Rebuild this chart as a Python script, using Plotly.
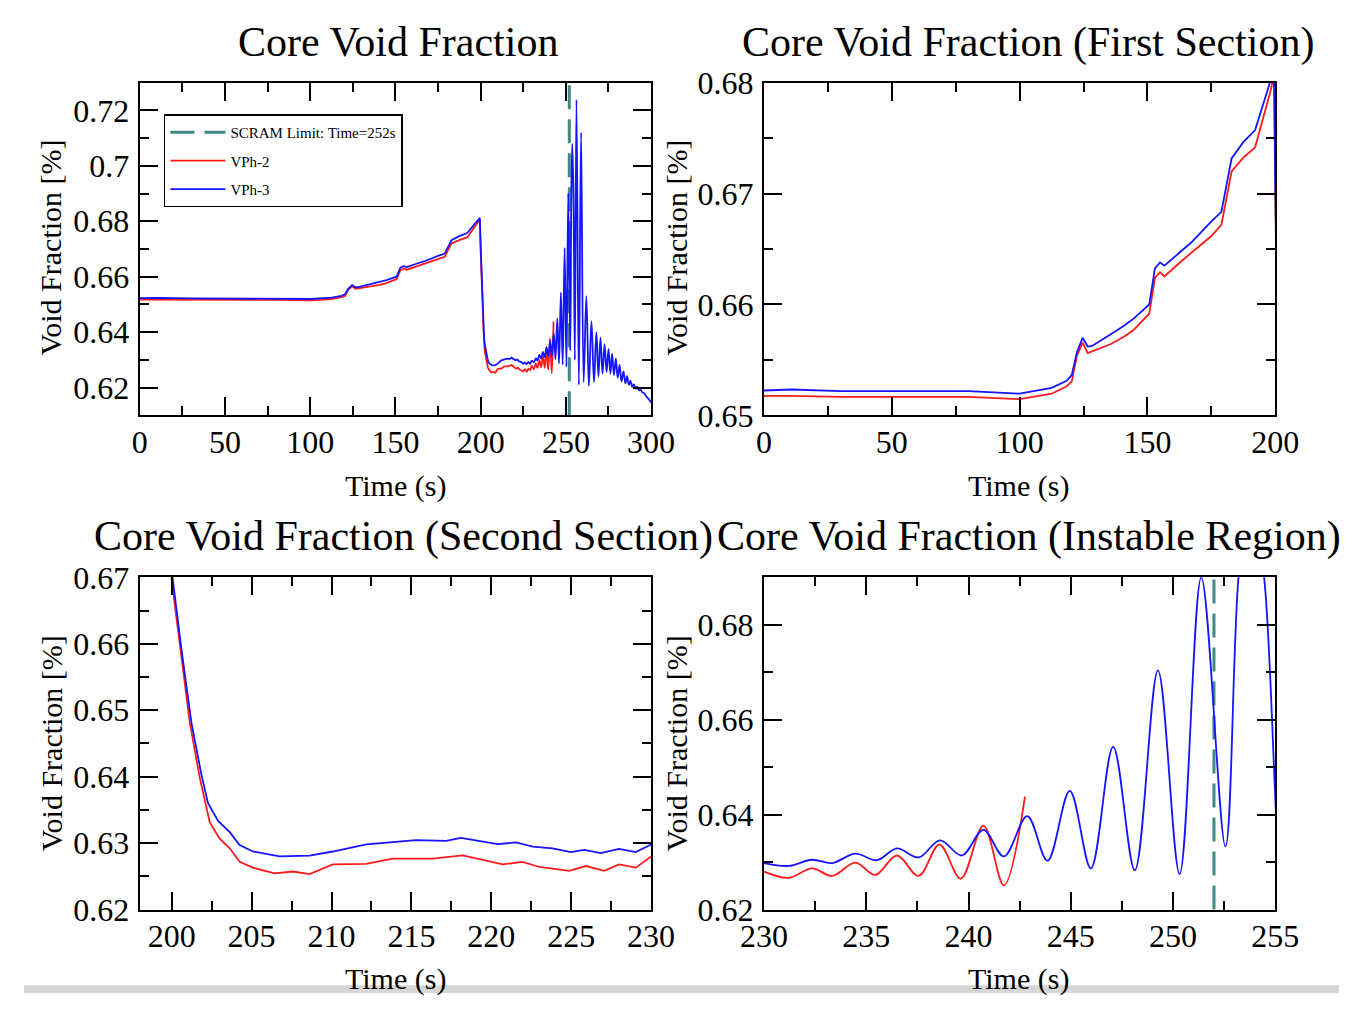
import plotly.graph_objects as go

# ---------------- data ----------------
scram_time = 252.0

# VPh-2 (red) : time [s] and core void fraction
t_vph2 = [0, 10.5, 30, 80, 100, 112.5, 118.4, 120.4, 122.4, 124.6, 126.6, 135.5, 140.8,
          144.7, 150.7, 152.9, 154.9, 156.6, 163.2, 167.1, 175, 178.9, 182.9, 187.4, 192.1,
          198, 199.5, 200.0, 200.55, 201.13, 201.75, 202.38, 203.0, 203.63, 204.25, 205.08,
          206.44, 207.58, 208.63, 210.08, 212.17, 213.83, 216.33, 218.21, 220.71, 221.96,
          223.0, 224.88, 225.92, 227.06, 228.0, 229.04, 230.0,
          231.2, 232.35, 233.33, 234.47, 235.44, 236.5, 237.56, 238.58, 239.62, 240.73,
          241.73, 242.76]
v_vph2 = [0.65175, 0.65175, 0.65166, 0.65166, 0.65146, 0.65195, 0.65262, 0.65306, 0.65539,
          0.65655, 0.65562, 0.65641, 0.65708, 0.65772, 0.65917, 0.66238, 0.6629, 0.66252,
          0.66389, 0.66465, 0.66617, 0.66718, 0.67199, 0.67321, 0.67417, 0.67913, 0.6806,
          0.6695, 0.6590, 0.64816, 0.6399, 0.63311, 0.63068, 0.62922, 0.62718, 0.62631,
          0.62544, 0.62573, 0.62534, 0.6268, 0.62689, 0.62767, 0.62767, 0.62816, 0.6268,
          0.62718, 0.62641, 0.62583, 0.62655, 0.62583, 0.6268, 0.62631, 0.6280,
          0.6267, 0.6287, 0.6271, 0.6299, 0.6273, 0.6314, 0.6271, 0.6337, 0.6265, 0.6377,
          0.6251, 0.6438]

# VPh-3 (blue)
t_vph3 = [0, 10.5, 30, 80, 100, 112.5, 118.4, 120.4, 122.4, 124.6, 126.6, 128.3, 135.5,
          140.8, 144.7, 150.7, 152.9, 154.9, 156.6, 163.2, 167.1, 175, 178.9, 182.9, 187.4,
          192.1, 198, 199.5, 200.05, 200.6, 201.23, 201.85, 202.27, 202.9, 203.63, 204.25,
          205.08, 206.75, 208.63, 210.08, 212.17, 215.29, 217.17, 218.1, 220.4, 221.54,
          222.58, 223.83, 224.98, 225.81, 226.85, 228.0, 229.04, 230.0,
          231.2, 232.35, 233.33, 234.47, 235.52, 236.5, 237.56, 238.61, 239.67, 240.73,
          241.73, 242.87, 243.86, 244.95, 245.98, 247.07, 248.13, 249.26, 250.32, 251.38,
          252.56, 253.2, 253.75, 254.45, 255.25, 256.2, 257.6, 258.9, 260.4, 262.0, 263.5,
          265.0, 266.5, 267.9, 269.1, 270.3, 271.5, 272.7, 273.9, 275.0, 276.1, 277.1,
          278.2, 279.3, 280.4, 281.5, 282.6, 283.8, 284.9, 285.9, 286.9, 287.9, 288.9,
          289.9, 290.9, 291.9, 292.9, 293.9, 294.9, 296.0, 297.0, 298.0, 299.0, 300.0]
v_vph3 = [0.65224, 0.65233, 0.65218, 0.65218, 0.65195, 0.65248, 0.65312, 0.65364, 0.65568,
          0.65699, 0.6562, 0.65626, 0.65728, 0.65807, 0.65874, 0.6600, 0.66325, 0.66378,
          0.66349, 0.66485, 0.66558, 0.66748, 0.66835, 0.67316, 0.67461, 0.67572, 0.6800,
          0.6812, 0.6700, 0.65932, 0.64816, 0.64039, 0.63602, 0.63335, 0.63165, 0.62971,
          0.62874, 0.62801, 0.62811, 0.62874, 0.62981, 0.63044, 0.63034, 0.63078, 0.62985,
          0.6301, 0.62947, 0.62922, 0.62864, 0.62898, 0.6285, 0.62913, 0.62864, 0.6298,
          0.6292, 0.6305, 0.6298, 0.6318, 0.6304, 0.6329, 0.6310, 0.6346, 0.6314, 0.6368,
          0.6312, 0.6397, 0.6303, 0.6450, 0.6287, 0.6543, 0.6283, 0.6704, 0.6275, 0.6900,
          0.6333, 0.6900, 0.7080, 0.6900, 0.6300, 0.7238, 0.6210, 0.7120, 0.6220, 0.6530,
          0.6205, 0.6440, 0.6220, 0.6400, 0.6240, 0.6380, 0.6250, 0.6357, 0.6255, 0.6340,
          0.6250, 0.6322, 0.6245, 0.6305, 0.6235, 0.6282, 0.6222, 0.6258, 0.6215, 0.6241,
          0.6210, 0.6225, 0.6203, 0.6212, 0.6196, 0.6203, 0.6190, 0.6193, 0.6182, 0.6180,
          0.6170, 0.6163, 0.6155, 0.6146]

panel_titles = ["Core Void Fraction", "Core Void Fraction (First Section)",
                "Core Void Fraction (Second Section)", "Core Void Fraction (Instable Region)"]
x_title = "Time (s)"
y_title = "Void Fraction [%]"
legend_names = ["SCRAM Limit: Time=252s", "VPh-2", "VPh-3"]

# axis ranges / ticks per panel
x_ranges = [[0, 300], [0, 200], [198, 230], [230, 255]]
y_ranges = [[0.61, 0.73], [0.65, 0.68], [0.62, 0.67], [0.62, 0.69]]
x_major = [50, 50, 5, 5]
x_minor = [25, 25, 2.5, 2.5]
x_tick0 = [0, 0, 200, 230]
y_major = [0.02, 0.01, 0.01, 0.02]
y_minor = [0.01, 0.005, 0.005, 0.01]
y_tick0 = [0.62, 0.65, 0.62, 0.62]
show_scram = [True, False, False, True]

# ---------------- layout geometry ----------------
W, H = 1363, 1011
FONT = "Liberation Serif"
RED = "#ff1a1a"
BLUE = "#1414ff"
TEAL = "#3f8a84"

# pixel boxes (left, right, top, bottom)
boxes = [(120, 650, 67, 412), (767, 1297, 67, 412),
         (120, 650, 580, 924.5), (767, 1297, 580, 924.5)]


def split(t, v, tcut):
    a_t = [x for x in t if x <= tcut]
    a_v = v[:len(a_t)]
    i0 = len(a_t) - 1
    return (a_t, a_v), (t[i0:], v[i0:])


red_lin, red_spl = split(t_vph2, v_vph2, 230.0)
blue_lin, blue_spl = split(t_vph3, v_vph3, 230.0)

fig = go.Figure()

for k in range(4):
    xa = "x" if k == 0 else f"x{k+1}"
    ya = "y" if k == 0 else f"y{k+1}"
    first = (k == 0)
    if show_scram[k]:
        fig.add_trace(go.Scatter(
            x=[scram_time, scram_time], y=y_ranges[k], mode="lines",
            line=dict(color=TEAL, width=3, dash="24px,10px"),
            name=legend_names[0], showlegend=first, legendgroup="g0",
            xaxis=xa, yaxis=ya))
    for (seg_lin, seg_spl, col, nm, grp) in [(red_lin, red_spl, RED, legend_names[1], "g1"),
                                             (blue_lin, blue_spl, BLUE, legend_names[2], "g2")]:
        fig.add_trace(go.Scatter(
            x=seg_lin[0], y=seg_lin[1], mode="lines",
            line=dict(color=col, width=1.8), name=nm,
            showlegend=first, legendgroup=grp, xaxis=xa, yaxis=ya))
        fig.add_trace(go.Scatter(
            x=seg_spl[0], y=seg_spl[1], mode="lines",
            line=dict(color=col, width=1.8, shape="spline", smoothing=1.0), name=nm,
            showlegend=False, legendgroup=grp, xaxis=xa, yaxis=ya))

layout = dict(
    width=W, height=H,
    margin=dict(l=0, r=0, t=0, b=0),
    paper_bgcolor="white", plot_bgcolor="white",
    font=dict(family=FONT, color="black", size=32),
    showlegend=True,
    legend=dict(x=145 / W, y=1 - 100 / H, xanchor="left", yanchor="top",
                bordercolor="black", borderwidth=1.5, bgcolor="white",
                font=dict(family=FONT, size=15, color="black"),
                tracegroupgap=6, itemwidth=55),
)

for k in range(4):
    l, r, t, b = boxes[k]
    axis_common = dict(showline=True, linecolor="black", linewidth=2, mirror="allticks",
                       ticks="inside", ticklen=18, tickwidth=2, tickcolor="black",
                       showgrid=False, zeroline=False,
                       tickfont=dict(family=FONT, size=32, color="black"))
    xkey = "xaxis" if k == 0 else f"xaxis{k+1}"
    ykey = "yaxis" if k == 0 else f"yaxis{k+1}"
    layout[xkey] = dict(axis_common, domain=[l / W, r / W], range=x_ranges[k],
                        tickmode="linear", tick0=x_tick0[k], dtick=x_major[k],
                        minor=dict(ticks="inside", ticklen=9, tickwidth=2, tickcolor="black",
                                   dtick=x_minor[k], tick0=x_tick0[k], showgrid=False),
                        ticklabelstandoff=-3,
                        anchor="y" if k == 0 else f"y{k+1}")
    layout[ykey] = dict(axis_common, domain=[1 - b / H, 1 - t / H], range=y_ranges[k],
                        tickmode="linear", tick0=y_tick0[k], dtick=y_major[k],
                        minor=dict(ticks="inside", ticklen=9, tickwidth=2, tickcolor="black",
                                   dtick=y_minor[k], tick0=y_tick0[k], showgrid=False),
                        ticklabelstandoff=2,
                        anchor="x" if k == 0 else f"x{k+1}")

annotations = []
title_pos = [(388, 25), (1041, 25), (393, 538), (1042, 538)]
xlab_pos = [(385, 485), (1031, 485), (385, 996), (1031, 996)]
ylab_pos = [(28, 238), (676, 238), (28, 752), (676, 752)]
for k in range(4):
    annotations.append(dict(text=panel_titles[k], x=title_pos[k][0] / W, y=1 - title_pos[k][1] / H,
                            xref="paper", yref="paper", xanchor="center", yanchor="middle",
                            showarrow=False, font=dict(family=FONT, size=42, color="black")))
    annotations.append(dict(text=x_title, x=xlab_pos[k][0] / W, y=1 - xlab_pos[k][1] / H,
                            xref="paper", yref="paper", xanchor="center", yanchor="middle",
                            showarrow=False, font=dict(family=FONT, size=30, color="black")))
    annotations.append(dict(text=y_title, x=ylab_pos[k][0] / W, y=1 - ylab_pos[k][1] / H,
                            xref="paper", yref="paper", xanchor="center", yanchor="middle",
                            textangle=-90, showarrow=False,
                            font=dict(family=FONT, size=30, color="black")))
layout["annotations"] = annotations
layout["shapes"] = [dict(type="rect", xref="paper", yref="paper", x0=0, x1=1,
                         y0=0, y1=1 - 1003 / H, fillcolor="#d6d6d6", line=dict(width=0),
                         layer="above")]

fig.update_layout(**layout)
fig.write_html("out.html")
